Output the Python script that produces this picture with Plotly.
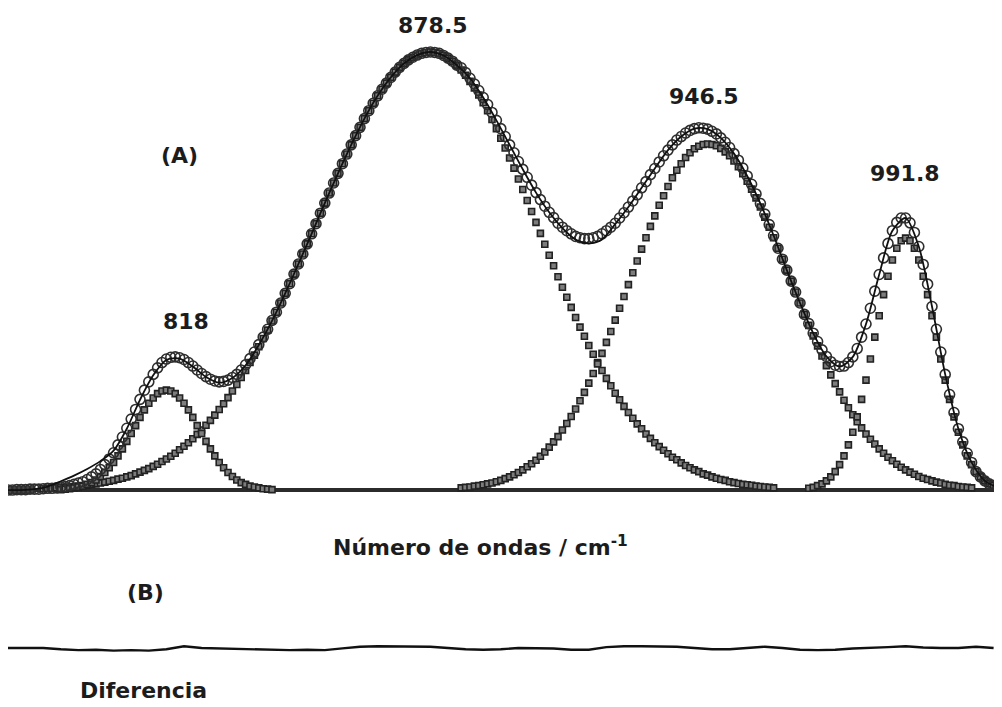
import plotly.graph_objects as go

# ---------------- data ----------------
# wavenumber grids (cm-1)
comp1_wn = list(range(794, 843))
comp1_y = [.001, .002, .003, .005, .007, .009, .013, .017, .023, .031, .040, .051, .063, .078, .094, .111,
           .129, .147, .166, .183, .198, .210, .220, .226, .228, .226, .220, .210, .198, .183, .166, .147,
           .129, .111, .094, .078, .063, .051, .040, .031, .023, .017, .013, .009, .007, .005, .003, .002, .001]

comp2_wn = list(range(790, 957))
comp2_y = [.003, .004, .004, .005, .006, .006, .007, .008, .009, .010,
           .011, .013, .014, .016, .018, .020, .022, .025, .027, .030,
           .033, .037, .041, .045, .049, .054, .059, .065, .071, .077,
           .084, .092, .100, .108, .117, .127, .137, .148, .159, .171,
           .184, .197, .211, .226, .241, .257, .273, .291, .308, .327,
           .346, .365, .386, .406, .427, .449, .471, .493, .516, .539,
           .562, .585, .608, .632, .655, .678, .701, .723, .745, .767,
           .788, .809, .828, .848, .866, .883, .900, .915, .929, .942,
           .954, .965, .974, .982, .988, .993, .997, .999, 1.000,
           .999, .997, .992, .986, .979, .970, .959, .947, .933, .918,
           .902, .884, .866, .846, .825, .803, .781, .758, .735, .710,
           .686, .661, .636, .611, .586, .561, .536, .512, .487, .463,
           .440, .417, .394, .372, .351, .330, .310, .291, .273, .255,
           .238, .221, .206, .191, .177, .164, .151, .140, .128, .118,
           .108, .099, .091, .083, .075, .069, .062, .056, .051, .046,
           .042, .037, .034, .030, .027, .024, .022, .019, .017, .015,
           .013, .012, .011, .009, .008, .007, .006, .005]

comp3_wn = list(range(885, 1002))
comp3_y = [.005, .006, .007, .009, .010, .012, .014, .016, .019, .022,
           .026, .030, .035, .040, .046, .053, .060, .068, .077, .087,
           .098, .110, .122, .137, .152, .168, .185, .204, .223, .244,
           .266, .288, .312, .337, .362, .388, .415, .442, .469, .496,
           .523, .550, .576, .602, .626, .650, .672, .693, .713, .730,
           .745, .759, .770, .779, .785, .789, .790,
           .789, .786, .780, .772, .763, .751, .738, .722, .705, .687,
           .667, .646, .623, .600, .576, .552, .527, .502, .477, .452,
           .427, .401, .376, .352, .329, .306, .284, .263, .243, .224,
           .205, .188, .172, .156, .142, .128, .116, .105, .094, .084,
           .075, .067, .059, .052, .046, .041, .036, .031, .027, .024,
           .021, .018, .016, .013, .011, .010, .008, .007, .006, .005]

comp4_wn = list(range(964, 1008))
comp4_y = [.004, .006, .010, .014, .021, .030, .042, .058, .078, .103, .132, .167, .207, .251, .299,
           .349, .398, .446, .488, .525, .552, .569, .575,
           .569, .552, .525, .488, .446, .398, .349, .299, .251, .207, .167, .132, .103, .078, .058,
           .042, .030, .021, .014, .010, .006]

fit_wn = list(range(782, 1008))
fit_y = [.000, .000, .001, .001, .001, .002, .002, .002,
         .003, .004, .004, .005, .007, .008, .010, .013, .016, .019,
         .024, .030, .037, .047, .058, .071, .085, .103, .121, .141,
         .162, .184, .207, .228, .247, .264, .279, .291, .299, .303,
         .304, .302, .298, .291, .283, .274, .266, .259, .253, .249,
         .247, .248, .251, .257, .264, .274, .286, .300, .315, .332,
         .349, .367, .387, .406, .427, .449, .471, .493, .516, .539,
         .562, .585, .608, .632, .655, .678, .701, .723, .745, .767,
         .788, .809, .828, .848, .866, .883, .900, .915, .929, .942,
         .954, .965, .974, .982, .988, .993, .997, .999, 1.000, .999,
         .997, .992, .986, .979, .970, .964, .953, .940, .927, .912,
         .896, .880, .862, .844, .825, .807, .788, .770, .750, .732,
         .714, .696, .679, .663, .648, .634, .622, .609, .600, .592,
         .585, .579, .576, .574, .574, .576, .579, .585, .592, .600,
         .609, .621, .633, .646, .660, .674, .690, .704, .720, .734,
         .749, .763, .776, .788, .799, .807, .815, .821, .825, .827,
         .826, .824, .819, .813, .804, .794, .782, .768, .753, .735,
         .717, .698, .676, .654, .630, .606, .581, .552, .527, .502,
         .477, .452, .427, .401, .380, .358, .339, .320, .305, .293,
         .285, .282, .283, .291, .304, .323, .349, .379, .415, .454,
         .492, .530, .563, .592, .611, .621, .621, .610, .588, .556,
         .515, .470, .419, .367, .315, .264, .218, .177, .140, .110,
         .084, .063, .042, .030, .021, .014, .010, .006]

exp_wn = list(range(782, 1008, 3))
exp_y = [.000, .000, .002, .008, .020, .033, .048, .066, .090, .140, .206, .262, .297, .300, .282,
         .258, .245, .256, .285, .331, .386, .449, .516, .585, .655, .723, .788, .848, .900, .942,
         .974, .993, 1.000, .992, .970, .940, .896, .844, .788, .732, .679, .634, .598, .572, .563,
         .572, .607, .646, .690, .734, .776, .807, .825, .824, .804, .768, .717, .654, .581, .502,
         .427, .358, .305, .282, .304, .379, .492, .592, .621, .556, .419, .264, .140, .063, .021, .006]

diff_wn = list(range(782, 1008, 4))
diff_y = [0, 0, 0, -.003, -.005, -.004, -.006, -.005, -.006, -.003, .004, .0, -.001, -.001, -.002,
          -.004, -.005, -.004, -.005, -.001, .003, .004, .004, .004, .003, .0, -.003, -.004, -.003,
          .0, .0, -.001, -.004, -.004, .002, .004, .004, .004, .003, .0, -.003, -.003, .0, .003, .0,
          -.004, -.005, -.004, -.001, .0, .002, .004, .001, .0, .0, .003, .0]

peak_labels = ["878.5", "946.5", "991.8", "818"]

# ---------------- figure ----------------
# the page body adds an 8 px margin, so the figure is 8 px smaller than the window
OFF = 8
W, H = 1002 - OFF, 707 - OFF
ML, MR = 0, 2


def fx(xp):
    """reference-window x pixel -> paper fraction"""
    return (xp - OFF - ML) / (W - ML - MR)


def fy(yp):
    """reference-window y pixel -> paper fraction"""
    return (H - (yp - OFF)) / H


fig = go.Figure()

sq = dict(symbol="square", size=6, color="#7d7d7d", line=dict(color="#222222", width=1.6))
for wn, yy in [(comp2_wn, comp2_y), (comp3_wn, comp3_y), (comp1_wn, comp1_y), (comp4_wn, comp4_y)]:
    fig.add_trace(go.Scatter(x=wn, y=yy, mode="markers", marker=sq, showlegend=False,
                             cliponaxis=False, hoverinfo="skip"))

fig.add_trace(go.Scatter(x=fit_wn, y=fit_y, mode="markers",
                         marker=dict(symbol="circle-open", size=10, color="#2e2e2e",
                                     line=dict(color="#2e2e2e", width=1.6)),
                         showlegend=False, cliponaxis=False, hoverinfo="skip"))

fig.add_trace(go.Scatter(x=exp_wn, y=exp_y, mode="lines",
                         line=dict(color="#111111", width=1.8, shape="spline", smoothing=0.8),
                         showlegend=False, hoverinfo="skip"))

fig.add_trace(go.Scatter(x=diff_wn, y=diff_y, mode="lines", yaxis="y2",
                         line=dict(color="#111111", width=2.4),
                         showlegend=False, hoverinfo="skip"))

x0, x1 = 782, 782 + (W - ML - MR) / 4.4
fig.add_shape(type="line", xref="x", yref="y", x0=x0, x1=x1, y0=0, y1=0,
              line=dict(color="#2b2b2b", width=4), layer="below")
fig.add_shape(type="line", xref="x", yref="y", x0=x0, x1=788, y0=0, y1=0,
              line=dict(color="#444444", width=8), layer="below")

font = dict(family="DejaVu Sans", size=22, color="#1c1c1c", weight="bold")
ann = [
    (peak_labels[0], 433, 25),
    (peak_labels[1], 704, 96),
    (peak_labels[2], 905, 174),
    (peak_labels[3], 186, 321),
    ("(A)", 179, 155),
    ("Número de ondas / cm<sup>-1</sup>", 480, 546),
    ("(B)", 145, 592),
    ("Diferencia", 143, 690),
]
for t, xx, yy in ann:
    fig.add_annotation(text=t, x=fx(xx), y=fy(yy), xref="paper", yref="paper",
                       showarrow=False, xanchor="center", yanchor="middle", font=font)

fig.update_layout(
    width=W, height=H,
    margin=dict(l=ML, r=MR, t=0, b=0),
    paper_bgcolor="white", plot_bgcolor="white",
    xaxis=dict(range=[x0, x1], visible=False, fixedrange=True),
    yaxis=dict(domain=[fy(498.8), fy(30.1)], range=[-0.02, 1.05], visible=False),
    yaxis2=dict(domain=[fy(661), fy(635)], range=[-0.03, 0.03], visible=False, anchor="x"),
)

fig.write_html("out.html")
